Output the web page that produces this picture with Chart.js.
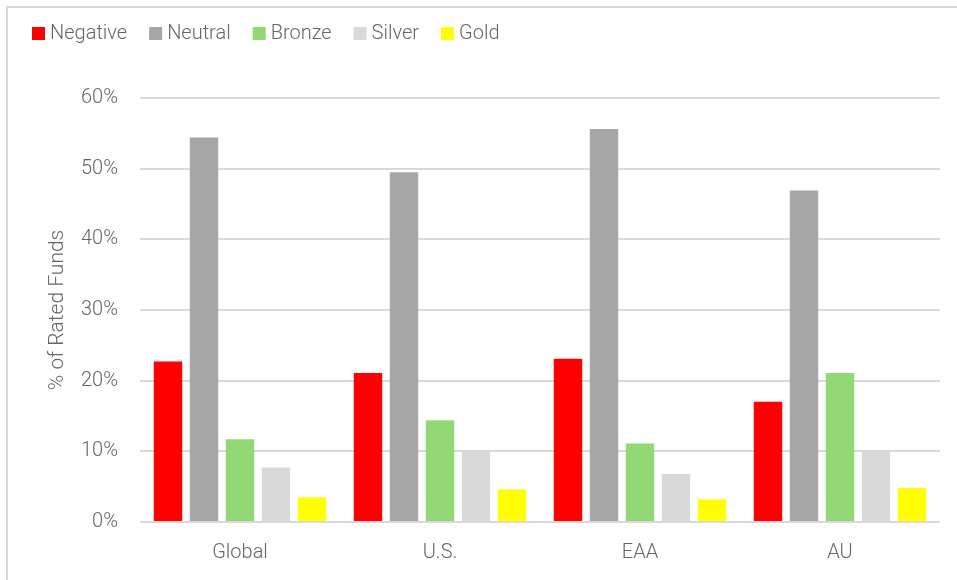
<!DOCTYPE html>
<html>
<head>
<meta charset="utf-8">
<script src="https://cdn.jsdelivr.net/npm/chart.js@4.4.1/dist/chart.umd.min.js"></script>
<style>
    html, body { margin: 0; padding: 0; background: #fff; }
    #wrap { position: relative; width: 957px; height: 580px; }
    #frame {
        position: absolute; left: 6px; top: 6px; right: 0; bottom: 0;
        border-left: 2px solid #d9d9d9; border-top: 2px solid #d9d9d9;
        pointer-events: none;
    }
</style>
</head>
<body>
<div id="wrap">
    <canvas id="ratingChart" width="957" height="580"></canvas>
    <div id="frame"></div>
</div>
<script>
// Share of rated funds per region, by rating bucket (%)
const regions = ['Global', 'U.S.', 'EAA', 'AU'];
const negative = [22.7, 21.1, 23.1, 17.0];
const neutral  = [54.4, 49.5, 55.6, 46.9];
const bronze   = [11.7, 14.4, 11.1, 21.1];
const silver   = [7.7, 10.0, 6.8, 10.0];
const gold     = [3.5, 4.6, 3.2, 4.8];
const yTicks   = [0, 10, 20, 30, 40, 50, 60];

const FONT = 'Roboto, "Liberation Sans Narrow", sans-serif';
const TEXT = '#666666';

// compact legend row at the top left (square, small gap, label)
const compactLegend = {
    id: 'compactLegend',
    afterDraw(chart) {
        const ctx = chart.ctx;
        let x = 32;
        const y = 34;
        ctx.save();
        ctx.font = '300 20px ' + FONT;
        ctx.textBaseline = 'middle';
        ctx.textAlign = 'left';
        chart.data.datasets.forEach(ds => {
            ctx.fillStyle = ds.backgroundColor;
            ctx.fillRect(x, y - 7, 13, 13);
            ctx.fillStyle = TEXT;
            ctx.fillText(ds.label, x + 18, y);
            x += 18 + ctx.measureText(ds.label).width + 22;
        });
        ctx.restore();
    }
};

document.addEventListener('DOMContentLoaded', function() {
    const ctx = document.getElementById('ratingChart').getContext('2d');

    function series(label, data, color) {
        return {
            label: label,
            data: data,
            backgroundColor: color,
            borderWidth: 0,
            categoryPercentage: 0.9,
            barPercentage: 0.79
        };
    }

    new Chart(ctx, {
        type: 'bar',
        data: {
            labels: regions,
            datasets: [
                series('Negative', negative, '#ff0000'),
                series('Neutral', neutral, '#a6a6a6'),
                series('Bronze', bronze, '#92d975'),
                series('Silver', silver, '#d9d9d9'),
                series('Gold', gold, '#ffff00')
            ]
        },
        options: {
            responsive: false,
            animation: false,
            layout: { padding: { left: 9, top: 98, right: 17, bottom: 0 } },
            plugins: {
                tooltip: { enabled: false },
                legend: { display: false }
            },
            scales: {
                x: {
                    grid: { display: false },
                    border: { display: false },
                    ticks: {
                        color: TEXT,
                        padding: 11,
                        font: { family: FONT, size: 20, weight: 300 }
                    },
                    afterFit: function(scale) { scale.height = 58; }
                },
                y: {
                    min: 0,
                    max: 60,
                    afterBuildTicks: function(scale) {
                        scale.ticks = yTicks.map(v => ({ value: v }));
                    },
                    grid: { color: '#d9d9d9', lineWidth: 2, drawTicks: false },
                    border: { display: false },
                    ticks: {
                        color: TEXT,
                        padding: 22,
                        font: { family: FONT, size: 20, weight: 300 },
                        callback: v => v + '%'
                    },
                    title: {
                        display: true,
                        text: '% of Rated Funds',
                        color: TEXT,
                        padding: { top: 36, bottom: 0 },
                        font: { family: FONT, size: 21, weight: 300 }
                    },
                    afterFit: function(scale) { scale.width = 131; }
                }
            }
        },
        plugins: [compactLegend]
    });
});
</script>
</body>
</html>
